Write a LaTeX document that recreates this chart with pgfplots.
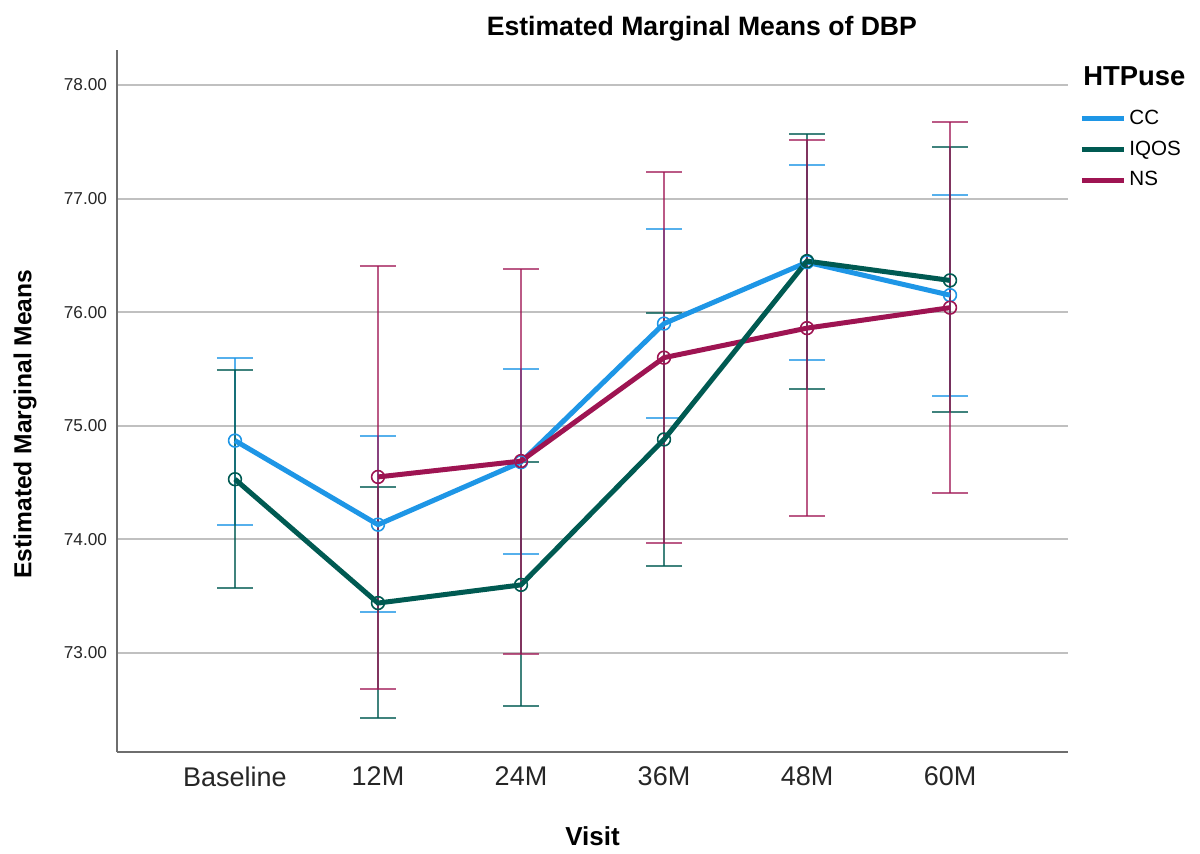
\documentclass[border=0pt]{standalone}
\usepackage{fontspec}
\setmainfont{Liberation Sans}
\usepackage{pgfplots}
\pgfplotsset{compat=1.18}
\usepackage{pgfplotstable}
\definecolor{cc}{RGB}{30,150,230}
\definecolor{iq}{RGB}{0,90,82}
\definecolor{ns}{RGB}{158,20,82}
\definecolor{gridc}{RGB}{192,192,192}
\definecolor{axc}{RGB}{110,110,110}

\pgfplotstableread{
x y lo hi
0 74.87 74.13 75.60
1 74.13 73.36 74.91
2 74.68 73.87 75.50
3 75.90 75.07 76.73
4 76.44 75.58 77.30
5 76.15 75.26 77.03
}\ccdata

\pgfplotstableread{
x y lo hi
0 74.53 73.57 75.49
1 73.44 72.43 74.46
2 73.60 72.53 74.68
3 74.88 73.77 75.99
4 76.45 75.32 77.57
5 76.28 75.12 77.45
}\iqdata

\pgfplotstableread{
x y lo hi
1 74.55 72.68 76.41
2 74.69 72.99 76.38
3 75.60 73.97 77.23
4 75.86 74.21 77.52
5 76.04 74.41 77.67
}\nsdata

\begin{document}
\begin{tikzpicture}
\useasboundingbox (-58.5pt,-50.5pt) rectangle (541.5pt,376pt);
\begin{axis}[
  scale only axis, width=475.5pt, height=351pt,
  at={(0,0)}, anchor=south west,
  clip=false,
  xmin=-0.825, xmax=5.825, ymin=72.129, ymax=78.308,
  axis x line*=bottom, axis y line*=left,
  axis line style={draw=axc, line width=0.9pt},
  xtick={0,1,2,3,4,5},
  xticklabels={Baseline,12M,24M,36M,48M,60M},
  ytick={73,74,75,76,77,78},
  major tick length=0pt,
  ymajorgrids, grid style={gridc, line width=1pt},
  /pgf/number format/assume math mode=true,
  yticklabel style={/pgf/number format/.cd, fixed, fixed zerofill, precision=2, /tikz/.cd,
     font=\fontsize{8.6}{10}\selectfont, text=black!85, xshift=-1.5pt},
  xticklabel style={font=\fontsize{13.5}{15}\selectfont, text=black!85, yshift=-4pt},
  xlabel={Visit},
  xlabel style={font=\bfseries\fontsize{13}{15}\selectfont, at={(axis description cs:0.5,0)}, anchor=center, yshift=-42pt},
  ylabel={Estimated Marginal Means},
  ylabel style={font=\bfseries\fontsize{12.3}{14}\selectfont, at={(axis description cs:-0.0967,0.467)}, anchor=center, rotate=0},
  every axis title shift=0pt,
  title={Estimated Marginal Means of DBP},
  title style={font=\bfseries\fontsize{13.3}{15}\selectfont, at={(axis description cs:0.615,1.031)}, anchor=center},
  legend style={at={(axis description cs:1.0116,0.919)}, anchor=north west, draw=none, fill=none,
     font=\fontsize{10.3}{12}\selectfont, row sep=3.6pt, inner sep=0pt, nodes={inner sep=1.5pt}},
  legend cell align=left,
  legend image code/.code={\draw[line width=2.5pt] (0pt,0pt) -- (21pt,0pt);},
]
% error bars
\addplot[draw=none, mark=none, forget plot,
  error bars/.cd, y dir=both, y explicit,
  error bar style={draw=cc, opacity=0.75, line width=1pt},
  error mark options={draw=cc, opacity=0.75, line width=1pt, mark size=9pt, rotate=90}]
  table[x=x, y=y, y error plus expr=\thisrow{hi}-\thisrow{y}, y error minus expr=\thisrow{y}-\thisrow{lo}] {\ccdata};
\addplot[draw=none, mark=none, forget plot,
  error bars/.cd, y dir=both, y explicit,
  error bar style={draw=iq, opacity=0.75, line width=1pt},
  error mark options={draw=iq, opacity=0.75, line width=1pt, mark size=9pt, rotate=90}]
  table[x=x, y=y, y error plus expr=\thisrow{hi}-\thisrow{y}, y error minus expr=\thisrow{y}-\thisrow{lo}] {\iqdata};
\addplot[draw=none, mark=none, forget plot,
  error bars/.cd, y dir=both, y explicit,
  error bar style={draw=ns, opacity=0.7, line width=1pt},
  error mark options={draw=ns, opacity=0.7, line width=1pt, mark size=9pt, rotate=90}]
  table[x=x, y=y, y error plus expr=\thisrow{hi}-\thisrow{y}, y error minus expr=\thisrow{y}-\thisrow{lo}] {\nsdata};
% lines
\addplot[cc, line width=2.5pt, mark=o, mark size=3.2pt, forget plot, mark options={line width=0.8pt, solid}]
  table[x=x, y=y] {\ccdata};
\addplot[ns, line width=2.5pt, mark=o, mark size=3.2pt, forget plot, mark options={line width=0.8pt, solid}]
  table[x=x, y=y] {\nsdata};
\addplot[iq, line width=2.5pt, mark=o, mark size=3.2pt, forget plot, mark options={line width=0.8pt, solid}]
  table[x=x, y=y] {\iqdata};
\addlegendimage{cc, line width=2.5pt}
\addlegendentry{CC}
\addlegendimage{iq, line width=2.5pt}
\addlegendentry{IQOS}
\addlegendimage{ns, line width=2.5pt}
\addlegendentry{NS}
\node[anchor=west, inner sep=0pt, font=\bfseries\fontsize{13.7}{16}\selectfont] at (axis description cs:1.0158,0.963) {HTPuse};
\end{axis}
\end{tikzpicture}
\end{document}
